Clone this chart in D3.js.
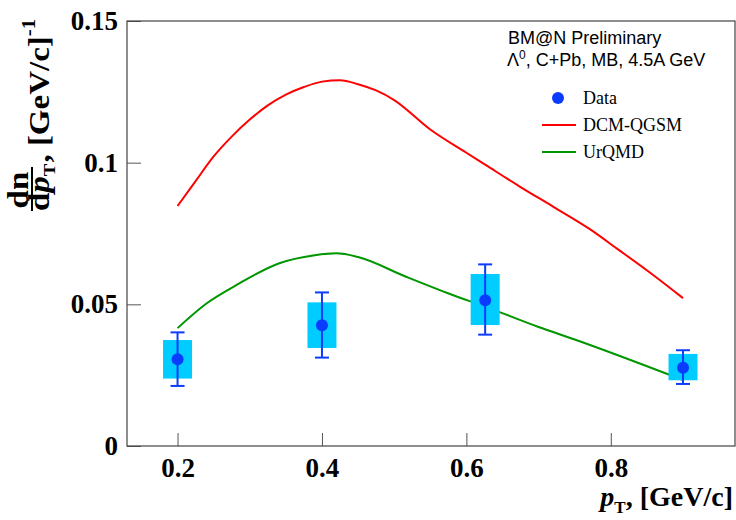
<html>
	<head>
		<meta charset="utf-8">
		<title>BM@N Lambda pT spectrum</title>
		<script src="https://d3js.org/d3.v7.min.js"></script>
		<style>
			body { margin: 0; background: #fff; }
			.tick text { font-family: "Liberation Serif", "Times New Roman", serif; font-weight: bold; }
		</style>
	</head>
	<body>
		<div id="chart"></div>

	<script type="text/javascript">
		// data points (Lambda0, C+Pb, MB, 4.5A GeV)
		var dataPt  = [0.2, 0.4, 0.626, 0.9];
		var dataVal = [0.0306, 0.0426, 0.0514, 0.0276];
		var statLo  = [0.0212, 0.0312, 0.0393, 0.0219];
		var statHi  = [0.0401, 0.0542, 0.0641, 0.0338];
		var sysLo   = [0.0238, 0.0346, 0.0427, 0.0232];
		var sysHi   = [0.0374, 0.0507, 0.0607, 0.0325];

		// DCM-QGSM model curve
		var dcmPt  = [0.2, 0.225, 0.25, 0.275, 0.3, 0.325, 0.35, 0.375, 0.4, 0.425, 0.45, 0.475, 0.5, 0.55, 0.6, 0.626, 0.675, 0.72, 0.77, 0.81, 0.86, 0.9];
		var dcmVal = [0.0847, 0.0935, 0.1022, 0.1092, 0.1152, 0.1202, 0.1240, 0.1267, 0.1286, 0.1291, 0.1277, 0.1255, 0.1221, 0.1117, 0.1035, 0.0993, 0.0914, 0.0845, 0.0767, 0.0694, 0.0601, 0.0522];

		// UrQMD model curve
		var urqPt  = [0.2, 0.24, 0.285, 0.34, 0.39, 0.42, 0.45, 0.515, 0.58, 0.626, 0.7, 0.75, 0.9];
		var urqVal = [0.0416, 0.0503, 0.0573, 0.0644, 0.0673, 0.0680, 0.0667, 0.0599, 0.0534, 0.0492, 0.0420, 0.0376, 0.0233];

		var xTicks = [0.2, 0.4, 0.6, 0.8];
		var yTicks = [0, 0.05, 0.1, 0.15];

		var margin = {top: 21, right: 1, bottom: 74, left: 127},
		    width = 736 - margin.left - margin.right,
		    height = 520 - margin.top - margin.bottom;

		var root = d3.select("#chart")
		  .append("svg")
		    .attr("width", 736)
		    .attr("height", 520);
		var svg = root.append("g")
		    .attr("transform", "translate(" + margin.left + "," + margin.top + ")");

		var x = d3.scaleLinear().domain([0.13, 0.972]).range([0, width]);
		var y = d3.scaleLinear().domain([0, 0.15]).range([height, 0]);

		// axes, ticks pointing inward like ROOT
		svg.append("g")
		  .attr("transform", "translate(0," + height + ")")
		  .call(d3.axisBottom(x).tickValues(xTicks).tickSizeInner(-13).tickSizeOuter(0).tickPadding(12)
		    .tickFormat(d3.format(".1f")));
		svg.append("g")
		  .call(d3.axisLeft(y).tickValues(yTicks).tickSizeInner(-14).tickSizeOuter(0).tickPadding(9)
		    .tickFormat(function(d) { return d === 0 ? "0" : d3.format(".2~f")(d); }));
		svg.selectAll(".domain").remove();
		svg.selectAll(".tick line").attr("stroke", "#555");
		svg.selectAll(".tick text").attr("font-size", 27).attr("fill", "#000");

		// frame
		svg.append("rect")
		  .attr("width", width).attr("height", height)
		  .attr("fill", "none").attr("stroke", "#444").attr("stroke-width", 1.2);

		// model curves
		var line = d3.line()
		  .curve(d3.curveMonotoneX)
		  .x(function(d) { return x(d[0]); })
		  .y(function(d) { return y(d[1]); });
		svg.append("path")
		  .datum(d3.zip(urqPt, urqVal))
		  .attr("fill", "none").attr("stroke", "#009600").attr("stroke-width", 2)
		  .attr("d", line);
		svg.append("path")
		  .datum(d3.zip(dcmPt, dcmVal))
		  .attr("fill", "none").attr("stroke", "#ff0000").attr("stroke-width", 2)
		  .attr("d", line);

		// data: systematic boxes, stat error bars, markers
		var pts = dataPt.map(function(p, i) {
		  return {x: p, v: dataVal[i], lo: statLo[i], hi: statHi[i], slo: sysLo[i], shi: sysHi[i]};
		});
		var gd = svg.append("g");
		gd.selectAll("rect.sys").data(pts).enter().append("rect")
		  .attr("class", "sys")
		  .attr("x", function(d) { return x(d.x) - 14.5; })
		  .attr("width", 29)
		  .attr("y", function(d) { return y(d.shi); })
		  .attr("height", function(d) { return y(d.slo) - y(d.shi); })
		  .attr("fill", "#00ccff");
		gd.selectAll("line.err").data(pts).enter().append("line")
		  .attr("x1", function(d) { return x(d.x); }).attr("x2", function(d) { return x(d.x); })
		  .attr("y1", function(d) { return y(d.lo); }).attr("y2", function(d) { return y(d.hi); })
		  .attr("stroke", "#0a3cff").attr("stroke-width", 2);
		["lo", "hi"].forEach(function(k) {
		  gd.selectAll("line.cap" + k).data(pts).enter().append("line")
		    .attr("x1", function(d) { return x(d.x) - 7; }).attr("x2", function(d) { return x(d.x) + 7; })
		    .attr("y1", function(d) { return y(d[k]); }).attr("y2", function(d) { return y(d[k]); })
		    .attr("stroke", "#0a3cff").attr("stroke-width", 2);
		});
		gd.selectAll("circle").data(pts).enter().append("circle")
		  .attr("cx", function(d) { return x(d.x); })
		  .attr("cy", function(d) { return y(d.v); })
		  .attr("r", 6)
		  .attr("fill", "#0a3cff");

		// header text
		var sans = "'Liberation Sans', Arial, Helvetica, sans-serif";
		var serif = "'Liberation Serif', 'Times New Roman', serif";
		root.append("text").attr("x", 508).attr("y", 44)
		  .attr("font-family", sans).attr("font-size", 18).text("BM@N Preliminary");
		var t2 = root.append("text").attr("x", 507).attr("y", 66)
		  .attr("font-family", sans).attr("font-size", 18);
		t2.append("tspan").text("Λ");
		t2.append("tspan").attr("dy", -7).attr("font-size", 12).text("0");
		t2.append("tspan").attr("dy", 7).text(", C+Pb, MB, 4.5A GeV");

		// legend
		var leg = root.append("g").attr("font-family", serif).attr("font-size", 18);
		leg.append("circle").attr("cx", 558).attr("cy", 98).attr("r", 6).attr("fill", "#0a3cff");
		leg.append("text").attr("x", 583).attr("y", 104).text("Data");
		leg.append("line").attr("x1", 542).attr("x2", 576).attr("y1", 125).attr("y2", 125)
		  .attr("stroke", "#ff0000").attr("stroke-width", 2);
		leg.append("text").attr("x", 583).attr("y", 131).text("DCM-QGSM");
		leg.append("line").attr("x1", 542).attr("x2", 576).attr("y1", 152).attr("y2", 152)
		  .attr("stroke", "#009600").attr("stroke-width", 2);
		leg.append("text").attr("x", 583).attr("y", 158).text("UrQMD");

		// x axis title
		var xt = root.append("text").attr("x", 733).attr("y", 506).attr("text-anchor", "end")
		  .attr("font-family", serif).attr("font-weight", "bold").attr("font-size", 28);
		xt.append("tspan").attr("font-style", "italic").text("p");
		xt.append("tspan").attr("font-size", 17).attr("dy", 7).text("T");
		xt.append("tspan").attr("dy", -7).text(", [GeV/c]");

		// y axis title: dn/dpT fraction, rotated (stretched along the text like the ROOT canvas)
		var yt = root.append("g").attr("transform", "translate(49,211) rotate(-90) scale(1.1,1)")
		  .attr("font-family", serif).attr("font-weight", "bold").attr("font-size", 30);
		yt.append("text").attr("x", 19).attr("y", -21).attr("text-anchor", "middle").text("dn");
		yt.append("line").attr("x1", 0).attr("x2", 40).attr("y1", -17).attr("y2", -17)
		  .attr("stroke", "#000").attr("stroke-width", 2);
		var den = yt.append("text").attr("x", 0).attr("y", 0);
		den.append("tspan").text("d");
		den.append("tspan").attr("font-style", "italic").text("p");
		den.append("tspan").attr("font-size", 17).attr("dy", 6).text("T");
		var unit = yt.append("text").attr("x", 44).attr("y", 0);
		unit.append("tspan").text(", [GeV/c]");
		unit.append("tspan").attr("font-size", 19).attr("dy", -14).text("-1");
	</script>

	</body>
</html>
